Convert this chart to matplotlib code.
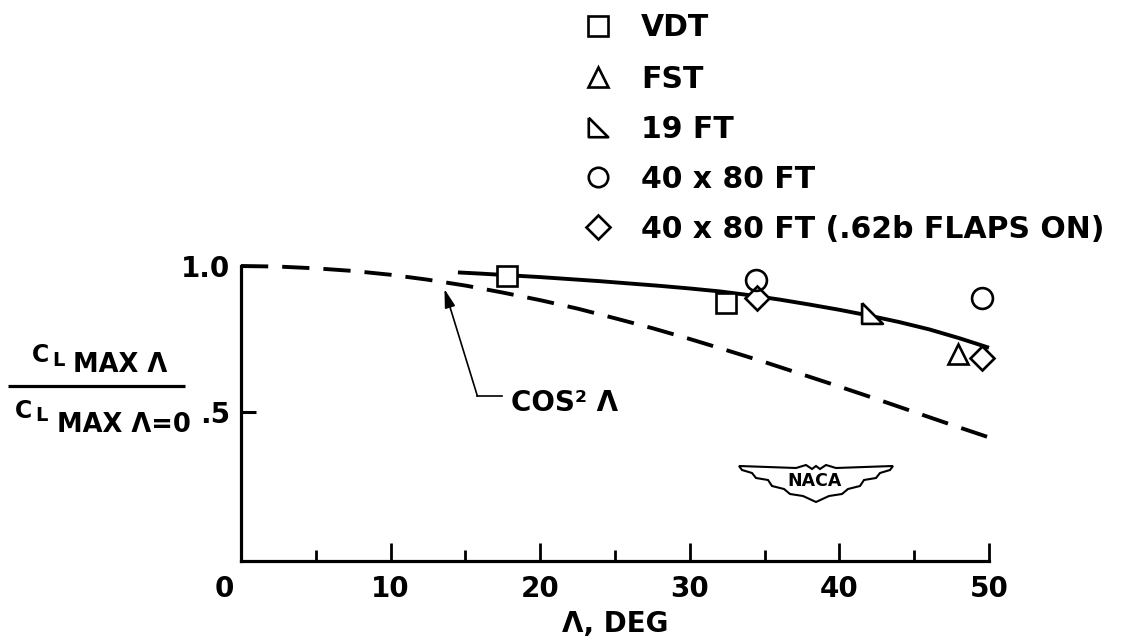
import matplotlib
matplotlib.use("Agg")
import matplotlib.pyplot as plt
from matplotlib.patches import Polygon
from matplotlib.transforms import ScaledTranslation

# ---- data -------------------------------------------------------------
# faired curve through the wind-tunnel results
fair_sweep = [14.5, 16, 18, 20, 22, 24, 26, 28, 30, 32, 34, 36, 38, 40,
              42, 44, 46, 48, 50]
fair_ratio = [0.978, 0.974, 0.968, 0.962, 0.955, 0.948, 0.940, 0.932,
              0.923, 0.913, 0.900, 0.885, 0.868, 0.850, 0.830, 0.808,
              0.783, 0.753, 0.720]

# cos^2(sweep) reference curve
cos2_sweep = [0, 2.5, 5, 7.5, 10, 12.5, 15, 17.5, 20, 22.5, 25, 27.5, 30,
              32.5, 35, 37.5, 40, 42.5, 45, 47.5, 50]
cos2_ratio = [1.000, 0.998, 0.992, 0.983, 0.970, 0.953, 0.933, 0.909,
              0.883, 0.854, 0.821, 0.787, 0.750, 0.711, 0.671, 0.629,
              0.587, 0.544, 0.500, 0.456, 0.413]

# test points by facility
vdt_sweep, vdt_ratio = [17.8, 32.4], [0.967, 0.872]
fst_sweep, fst_ratio = [47.9], [0.700]
ft19_sweep, ft19_ratio = [42.2], [0.839]
ft4080_sweep, ft4080_ratio = [34.4, 49.5], [0.952, 0.890]
flaps_sweep, flaps_ratio = [34.5, 49.5], [0.892, 0.684]

facility_labels = ["VDT", "FST", "19 FT", "40 x 80 FT",
                   "40 x 80 FT (.62b FLAPS ON)"]

x_ticks = [0, 10, 20, 30, 40, 50]
x_tick_labels = ["0", "10", "20", "30", "40", "50"]
x_minor_ticks = [5, 15, 25, 35, 45]
y_ticks = [0.5, 1.0]
y_tick_labels = [".5", "1.0"]

# ---- style ------------------------------------------------------------
plt.rcParams["font.family"] = ["DejaVu Sans"]
plt.rcParams["font.weight"] = "bold"
INK = "black"
FS = 20

W, H = 1124, 640
fig = plt.figure(figsize=(W / 100, H / 100), dpi=100)
fig.patch.set_facecolor("white")

ax = fig.add_axes([241 / W, (H - 561) / H, (989 - 241) / W, (561 - 266) / H])
ax.set_xlim(0, 50)
ax.set_ylim(-0.0103, 1.0)
ax.patch.set_alpha(0)

for side in ("top", "right"):
    ax.spines[side].set_visible(False)
for side in ("left", "bottom"):
    ax.spines[side].set_linewidth(2.3)
    ax.spines[side].set_color(INK)
    ax.spines[side].set_capstyle("projecting")

ax.set_xticks(x_ticks)
ax.set_xticklabels(x_tick_labels)
ax.set_xticks(x_minor_ticks, minor=True)
ax.set_yticks(y_ticks)
ax.set_yticklabels(y_tick_labels)
ax.tick_params(axis="x", which="major", direction="in", length=13, width=2.0,
               pad=10, labelsize=FS, colors=INK)
ax.tick_params(axis="x", which="minor", direction="in", length=8, width=2.0)
ax.tick_params(axis="y", which="major", direction="in", length=11, width=2.2,
               pad=8, labelsize=FS, colors=INK)

# the origin label sits a little left of the axis corner
zero_lbl = ax.xaxis.get_major_ticks()[0].label1
zero_lbl.set_transform(zero_lbl.get_transform()
                       + ScaledTranslation(-17 / 100, 0, fig.dpi_scale_trans))

ax.set_xlabel("Λ, DEG", fontsize=FS, fontweight="bold", labelpad=5)

# ---- curves -----------------------------------------------------------
ax.plot(cos2_sweep, cos2_ratio, color=INK, lw=2.8, ls=(0, (7, 3.6)),
        dash_capstyle="butt", zorder=2, clip_on=False)
ax.plot(fair_sweep, fair_ratio, color=INK, lw=2.8, solid_capstyle="butt",
        zorder=2, clip_on=False)

# ---- test points ------------------------------------------------------
right_tri = [(-1, 1), (-1, -1), (1, -1), (-1, 1)]
series = [
    (vdt_sweep, vdt_ratio, dict(marker="s", ms=15, mfc="white")),
    (fst_sweep, fst_ratio, dict(marker="^", ms=14, mfc="white")),
    (ft19_sweep, ft19_ratio, dict(marker=right_tri, ms=15, mfc="white")),
    (flaps_sweep, flaps_ratio, dict(marker="D", ms=12, mfc="white")),
    (ft4080_sweep, ft4080_ratio, dict(marker="o", ms=15, mfc="none")),
]
for xs, ys, style in series:
    ax.plot(xs, ys, ls="none", mec=INK, mew=1.9, zorder=4, clip_on=False,
            **style)

# ---- cos^2 callout ----------------------------------------------------
ax.annotate("", xy=(13.6, 0.921), xytext=(15.8, 0.555),
            arrowprops=dict(arrowstyle="-|>,head_length=0.7,head_width=0.2",
                            mutation_scale=16, color=INK, lw=1.2,
                            shrinkA=0, shrinkB=0))
ax.plot([15.8, 17.45], [0.555, 0.555], color=INK, lw=1.2)
ax.text(18.05, 0.503, "COS² Λ", fontsize=FS, fontweight="bold", ha="left",
        va="baseline", color=INK)

# ---- page-level lettering (pixel canvas) ------------------------------
canvas = fig.add_axes([0, 0, 1, 1])
canvas.set_xlim(0, W)
canvas.set_ylim(H, 0)
canvas.axis("off")

# key
legend_marks = [
    dict(marker="s", ms=14, mfc="white"),
    dict(marker="^", ms=14, mfc="white"),
    dict(marker=right_tri, ms=14, mfc="white"),
    dict(marker="o", ms=14, mfc="none"),
    dict(marker="D", ms=12, mfc="white"),
]
legend_rows = [26, 77, 127, 177, 227]
for label, mk, row in zip(facility_labels, legend_marks, legend_rows):
    canvas.plot([598], [row], ls="none", mec=INK, mew=1.9, **mk)
    canvas.text(641, row + 10.5, label, fontsize=21.5, fontweight="bold",
                ha="left", va="baseline", color=INK)

# ordinate label as a stacked ratio
canvas.text(32, 362, "C", fontsize=17, fontweight="bold", va="baseline")
canvas.text(52, 366, "L", fontsize=14, fontweight="bold", va="baseline")
canvas.text(73, 372, "MAX Λ", fontsize=18.5, fontweight="bold", va="baseline")
canvas.plot([8, 185], [386, 386], color=INK, lw=2.3, solid_capstyle="butt")
canvas.text(15, 418, "C", fontsize=17, fontweight="bold", va="baseline")
canvas.text(35, 421, "L", fontsize=14, fontweight="bold", va="baseline")
canvas.text(57, 432, "MAX Λ=0", fontsize=18.5, fontweight="bold",
            va="baseline")

# NACA wing emblem
cx = 816
half = [(-77, 466), (-20, 468), (-10, 465), (-4, 469), (0, 466)]
lower = [(74, 470), (64, 473), (60, 478), (48, 480), (44, 486), (32, 489),
         (26, 494), (13, 496), (0, 502)]
outline = ([(cx + dx, y) for dx, y in half]
           + [(cx - dx, y) for dx, y in reversed(half[:-1])]
           + [(cx + dx, y) for dx, y in lower[:-1]]
           + [(cx, lower[-1][1])]
           + [(cx - dx, y) for dx, y in reversed(lower[:-1])])
canvas.add_patch(Polygon(outline, closed=True, fc="white", ec=INK, lw=1.5,
                         joinstyle="miter"))
canvas.text(cx - 1, 481, "NACA", fontsize=12.5, fontweight="bold",
            ha="center", va="center", color=INK)

fig.savefig("out.png", dpi=100, facecolor="white")
